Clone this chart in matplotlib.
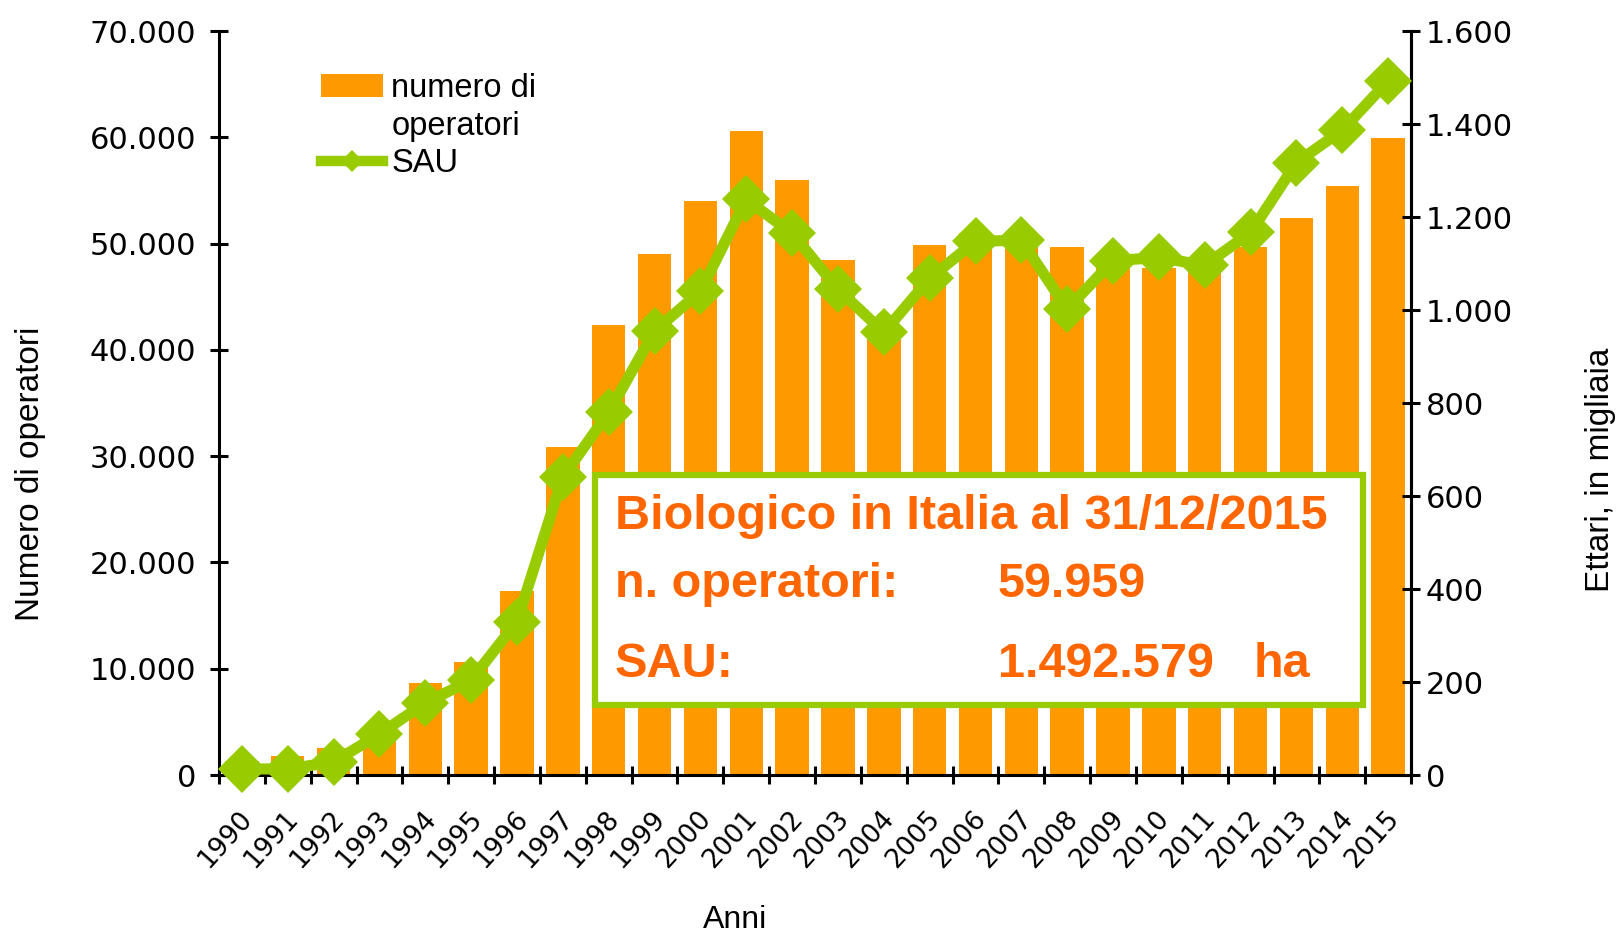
import matplotlib
matplotlib.use("Agg")
import matplotlib.pyplot as plt
import matplotlib.transforms as mtransforms
from matplotlib.patches import Patch, Rectangle
from matplotlib.lines import Line2D
from matplotlib.ticker import FuncFormatter, MultipleLocator, FixedLocator
import numpy as np

years = [str(y) for y in range(1990, 2016)]
operatori = [1300, 1800, 2500, 4200, 8700, 10600, 17300, 30850, 42300, 49000,
             54000, 60600, 56000, 48450, 41000, 49900, 51000, 50300, 49700, 48500,
             47700, 48300, 49700, 52400, 55400, 59959]
sau = [13, 13, 28, 88, 155, 204, 330, 641, 780, 955,
       1040, 1238, 1165, 1045, 952, 1068, 1148, 1150, 1002, 1106,
       1113, 1096, 1167, 1317, 1387, 1493]

ORANGE = "#FF9900"
GREEN = "#99CC00"
TXT_OR = "#FF6600"
LAB_FONT = ['Liberation Sans', 'DejaVu Sans']

plt.rcParams['font.family'] = ['DejaVu Sans']

W, H = 1616, 941
fig = plt.figure(figsize=(W / 100, H / 100), dpi=100)
ax = fig.add_axes([0.1355, 0.1764, 0.8732 - 0.1355, 0.967 - 0.1764])
ax2 = ax.twinx()

x = np.arange(len(years))
ax.bar(x, operatori, width=0.73, color=ORANGE, zorder=2)
ax2.plot(x, sau, color=GREEN, lw=8, marker='D', markersize=24,
         markeredgewidth=0, clip_on=False, zorder=3)

ax.set_xlim(-0.5, len(years) - 0.5)
ax.set_ylim(0, 70000)
ax2.set_ylim(0, 1600)

def thousands(v, pos):
    return f"{int(round(v)):,}".replace(",", ".")

ax.yaxis.set_major_locator(MultipleLocator(10000))
ax.yaxis.set_major_formatter(FuncFormatter(thousands))
ax2.yaxis.set_major_locator(MultipleLocator(200))
ax2.yaxis.set_major_formatter(FuncFormatter(thousands))

ax.set_xticks(x)
ax.set_xticklabels(years, rotation=48, ha='right', va='top', fontsize=19)
ax.xaxis.set_minor_locator(FixedLocator(np.arange(-0.5, len(years), 1.0)))
ax.tick_params(axis='x', which='major', length=0, pad=22)
ax.tick_params(axis='x', which='minor', length=13, width=2.2, direction='inout')
offset = mtransforms.ScaledTranslation(0.16, 0, fig.dpi_scale_trans)
for lab in ax.get_xticklabels():
    lab.set_transform(lab.get_transform() + offset)

ax.tick_params(axis='y', length=13, width=2.2, direction='inout', labelsize=22, pad=10)
ax2.tick_params(axis='y', length=13, width=2.2, direction='inout', labelsize=22, pad=4)

for a in (ax, ax2):
    a.spines['top'].set_visible(False)
    for s in ('left', 'right', 'bottom'):
        a.spines[s].set_linewidth(2.2)
ax2.spines['left'].set_visible(False)
ax2.spines['bottom'].set_visible(False)

# Axis titles
fig.text(31 / W, 1 - 474 / H, "Numero di operatori", rotation=90, ha='center', va='center',
         fontsize=24, family=LAB_FONT)
fig.text(1600 / W, 1 - 470 / H, "Ettari, in migliaia", rotation=90, ha='center', va='center',
         fontsize=24, family=LAB_FONT)
fig.text(735 / W, 1 - 920 / H, "Anni", ha='center', va='center', fontsize=23, family=LAB_FONT)

# Legend
handles = [Patch(facecolor=ORANGE, edgecolor='none'),
           Line2D([], [], color='none'),
           Line2D([], [], color=GREEN, lw=7.5, marker='D', markersize=11, markeredgewidth=0)]
labels = ["numero di", "operatori", "SAU"]
leg = ax2.legend(handles, labels, loc='upper left', bbox_to_anchor=(0.0856, 0.944),
                 frameon=False, prop={'family': LAB_FONT, 'size': 23.5},
                 handlelength=1.9, handletextpad=0.25,
                 labelspacing=0.21, borderpad=0, borderaxespad=0)
leg.set_zorder(10)

# Info box
box = Rectangle((0.3154, 0.0941), 0.9597 - 0.3154, 0.4032 - 0.0941,
                transform=ax2.transAxes, facecolor='white', edgecolor=GREEN,
                linewidth=4.5, zorder=8)
ax2.add_patch(box)
fkw = dict(transform=ax2.transAxes, color=TXT_OR, fontsize=35, fontweight='bold',
           family=LAB_FONT, va='center', ha='left', zorder=9)
ax2.text(0.332, 0.348, "Biologico in Italia al 31/12/2015", **fkw)
ax2.text(0.332, 0.2565, "n. operatori:", **fkw)
ax2.text(0.6535, 0.2565, "59.959", **fkw)
ax2.text(0.332, 0.149, "SAU:", **fkw)
ax2.text(0.6535, 0.149, "1.492.579", **fkw)
ax2.text(0.868, 0.149, "ha", **fkw)

fig.savefig("out.png", dpi=100)
